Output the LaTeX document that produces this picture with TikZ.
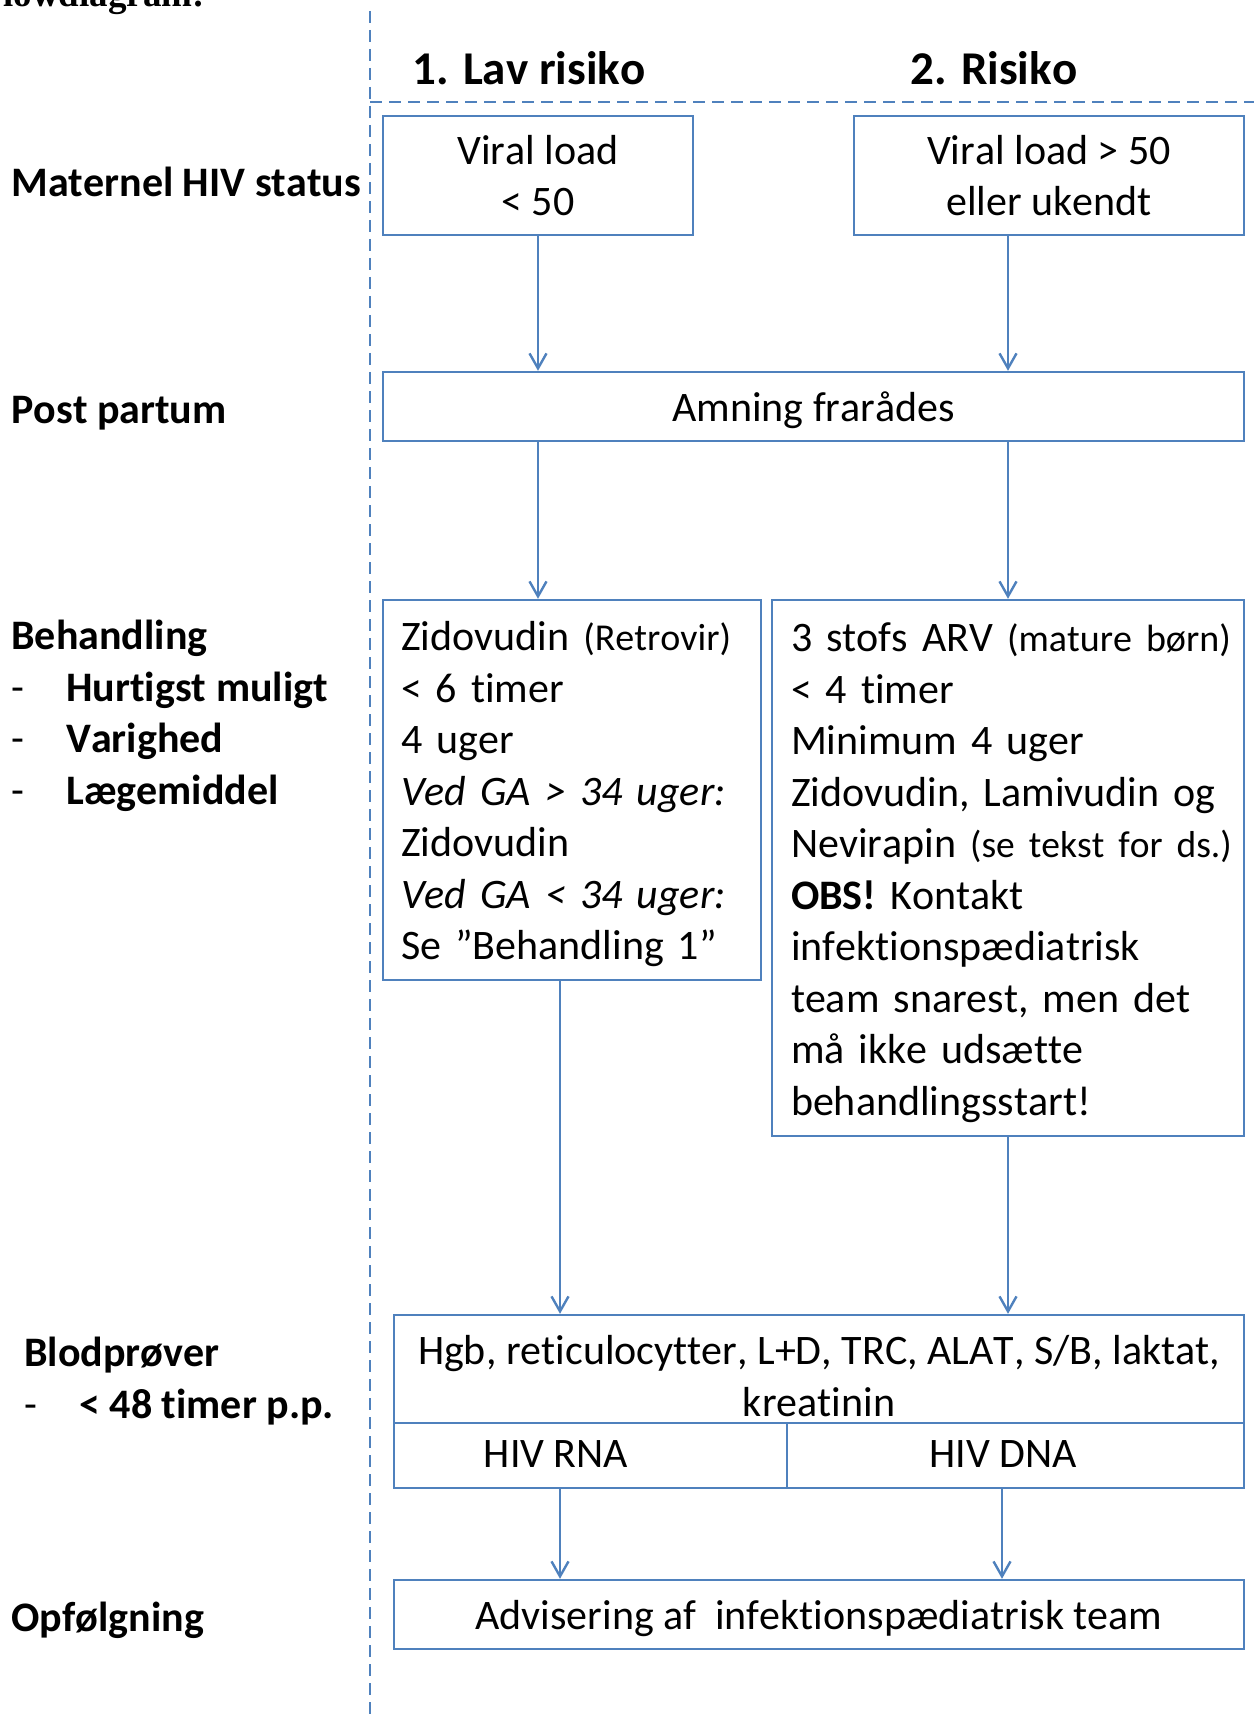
\documentclass[tikz,border=0pt]{standalone}
\usepackage{fontspec}
\setmainfont{Carlito}[Ligatures=NoCommon, Kerning=Off]
\newfontfamily\serifbold{Liberation Serif}
\usetikzlibrary{arrows.meta,positioning}
\definecolor{hivblue}{HTML}{4F81BD}
\newcommand{\boxfont}{\fontsize{21}{25.75}\selectfont}
\newcommand{\notefont}{\fontsize{19}{25.75}\selectfont}
\newcommand{\headfont}{\fontsize{23.5}{28}\selectfont\bfseries}
\newcommand{\sidefont}{\fontsize{21}{25.75}\selectfont\bfseries}
\newcommand{\sidedash}{\makebox[27.5pt][l]{\mdseries -}}
\newcommand{\firstline}{\rule{0pt}{19pt}}
\tikzset{
 box/.style={draw=hivblue, line width=1.2pt, rectangle, font=\boxfont, align=center, inner sep=0pt},
 flow/.style={draw=hivblue, line width=1.2pt, -{Straight Barb[length=7.5pt,width=8.5pt]}},
 sepline/.style={draw=hivblue, line width=1.2pt, dash pattern=on 6pt off 3.5pt},
 side/.style={font=\sidefont, align=left, anchor=west, inner sep=0pt},
 oneline/.style={text height=18pt, text depth=3.2pt}
}

\begin{document}
\begin{tikzpicture}[x=0.5pt, y=-0.5pt]
\useasboundingbox (0,0) rectangle (1254,1717);
\clip (0,0) rectangle (1254,1717);

 \node[font=\serifbold\bfseries\fontsize{18.5}{22}\selectfont, anchor=base west, inner sep=0pt] (cuttitle) at (3,7) {lowdiagram:};

 \coordinate (vtop) at (370,11);
 \coordinate (vbot) at (370,1717);
 \coordinate (hleft) at (370,102);
 \coordinate (hright) at (1254,102);
 \draw[sepline] (vtop) -- (vbot);
 \draw[sepline] (hleft) -- (hright);

 \node[font=\headfont] (hlav) at (529,68) {1. Lav risiko};
 \node[font=\headfont] (hris) at (994,68) {2. Risiko};

 \node[side, anchor=base west] (lmat) at (11,197) {Maternel HIV status};
 \node[side, anchor=base west] (lpost) at (11,423) {Post partum};
 \node[side] (lbeh) at (11,716) {Behandling\\ \sidedash Hurtigst muligt\\ \sidedash Varighed\\ \sidedash Lægemiddel};
 \node[side] (lblod) at (24,1381) {Blodprøver\\ \sidedash < 48 timer p.p.};
 \node[side, anchor=base west] (lopf) at (11,1631) {Opfølgning};

 \coordinate (colA) at (538,0);
 \coordinate (colB) at (1008,0);
 \coordinate (colC) at (560,0);
 \coordinate (colD) at (1002,0);

 \node[box, minimum width=155pt, minimum height=59.5pt] (vl1) at (538,175.5) {Viral load\\< 50};
 \node[box, minimum width=195pt, minimum height=59.5pt] (vl2) at (1049,175.5) {Viral load > 50\\eller ukendt};
 \node[box, oneline, minimum width=430.5pt, minimum height=34.5pt] (amning) at (813.5,406.5) {Amning frarådes};

 \node[box, align=left, inner xsep=9pt, text width=171pt, minimum height=190pt] (treat1) at (572,790)
  {\firstline Zidovudin {\notefont(Retrovir)}\\< 6 timer\\4 uger\\\textit{Ved GA > 34 uger:}\\Zidovudin\\\textit{Ved GA < 34 uger:}\\Se ”Behandling 1”};
 \node[box, align=left, inner xsep=9.5pt, text width=217pt, minimum height=268pt] (treat2) at (1008,868)
  {\firstline\mbox{3 stofs ARV {\notefont(mature børn)}}\\< 4 timer\\Minimum 4 uger\\\mbox{Zidovudin, Lamivudin og}\\\mbox{Nevirapin {\fontsize{18.75}{25.75}\selectfont(se tekst for ds.)}}\\\textbf{OBS!} Kontakt\\infektionspædiatrisk\\team snarest, men det\\må ikke udsætte\\behandlingsstart!};

 \node[box, minimum width=425pt, minimum height=54pt] (blood) at (819,1369) {};
 \node[box, minimum width=196.5pt, minimum height=32.5pt] (rna) at (590.5,1455.5) {};
 \node[box, minimum width=228.5pt, minimum height=32.5pt] (dna) at (1015.5,1455.5) {};
 \node[font=\boxfont, align=center, inner sep=0pt] (bloodtxt) at (819,1376) {Hgb, reticulocytter, L+D, TRC, ALAT, S/B, laktat,\\kreatinin};
 \node[font=\boxfont, inner sep=0pt] (rnatxt) at (556,1454) {HIV RNA};
 \node[font=\boxfont, inner sep=0pt] (dnatxt) at (1003,1454) {HIV DNA};

 \node[box, oneline, minimum width=425pt, minimum height=34.5pt] (opf) at (819,1614.5) {Advisering af~ infektionspædiatrisk team};

 \draw[flow] (vl1.south -| colA) -- (amning.north -| colA);
 \draw[flow] (vl2.south -| colB) -- (amning.north -| colB);
 \draw[flow] (amning.south -| colA) -- (treat1.north -| colA);
 \draw[flow] (amning.south -| colB) -- (treat2.north -| colB);
 \draw[flow] (treat1.south -| colC) -- (blood.north -| colC);
 \draw[flow] (treat2.south -| colB) -- (blood.north -| colB);
 \draw[flow] (rna.south -| colC) -- (opf.north -| colC);
 \draw[flow] (dna.south -| colD) -- (opf.north -| colD);
\end{tikzpicture}
\end{document}
